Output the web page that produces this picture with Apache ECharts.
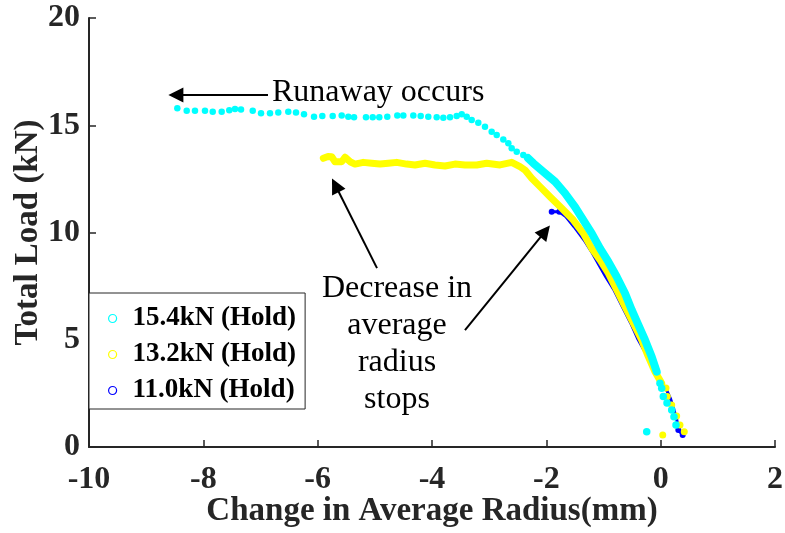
<!DOCTYPE html>
<html>
<head>
<meta charset="utf-8">
<script src="https://cdn.jsdelivr.net/npm/echarts@6/dist/echarts.min.js"></script>
<style>
  html, body { margin: 0; padding: 0; background: #fff; }
  #chart { width: 785px; height: 533px; }
</style>
</head>
<body>
<div id="chart"></div>
<script>
// Axis ranges and ticks
const xTicks = [-10, -8, -6, -4, -2, 0, 2];
const yTicks = [0, 5, 10, 15, 20];
const seriesNames = ['15.4kN (Hold)', '13.2kN (Hold)', '11.0kN (Hold)'];

// 15.4 kN hold: plateau and knee (separate samples)
const cyanHoldX = [-8.455, -8.291, -8.146, -7.971, -7.836, -7.679, -7.546, -7.446, -7.341, -7.136,
  -6.991, -6.834, -6.689, -6.514, -6.379, -6.239, -6.064, -5.919, -5.737, -5.580,
  -5.464, -5.364, -5.155, -5.037, -4.922, -4.782, -4.607, -4.502, -4.327, -4.198,
  -4.065, -3.918, -3.802, -3.685, -3.568, -3.480, -3.393, -3.306, -3.190, -3.073,
  -2.956, -2.868, -2.753, -2.665, -2.606, -2.518, -2.403];
const cyanHoldY = [15.79, 15.68, 15.68, 15.68, 15.63, 15.63, 15.70, 15.76, 15.74, 15.68,
  15.56, 15.56, 15.59, 15.63, 15.59, 15.51, 15.40, 15.43, 15.43, 15.45,
  15.40, 15.37, 15.37, 15.37, 15.37, 15.40, 15.46, 15.45, 15.45, 15.43,
  15.40, 15.37, 15.35, 15.37, 15.43, 15.51, 15.40, 15.24, 15.12, 14.93,
  14.70, 14.55, 14.34, 14.16, 13.93, 13.77, 13.61];
// 15.4 kN: dense loading branch
const cyanRampX = [-2.321, -2.228, -2.053, -1.848, -1.673, -1.499, -1.353, -1.206, -1.061, -0.916,
  -0.769, -0.624, -0.507, -0.391, -0.274, -0.157, -0.069];
const cyanRampY = [13.47, 13.23, 12.83, 12.37, 11.83, 11.20, 10.58, 9.96, 9.26, 8.64,
  7.94, 7.17, 6.39, 5.69, 4.99, 4.21, 3.51];
// 15.4 kN: first samples near zero load
const cyanTailX = [-0.012, 0.018, 0.046, 0.111, 0.193, 0.233, 0.268, -0.244];
const cyanTailY = [2.97, 2.74, 2.35, 2.05, 1.72, 1.41, 1.03, 0.71];

// 13.2 kN hold: plateau and loading branch (dense)
const yellowX = [-5.901, -5.819, -5.754, -5.697, -5.580, -5.522, -5.434, -5.347, -5.202, -5.055,
  -4.910, -4.764, -4.617, -4.443, -4.297, -4.122, -3.948, -3.773, -3.598, -3.423,
  -3.218, -3.043, -2.810, -2.606, -2.461, -2.373, -2.256, -2.111, -1.936, -1.731,
  -1.528, -1.353, -1.206, -1.061, -0.916, -0.769, -0.624, -0.479, -0.332, -0.216,
  -0.099, 0.018];
const yellowY = [13.46, 13.54, 13.53, 13.30, 13.30, 13.51, 13.30, 13.19, 13.27, 13.23,
  13.19, 13.23, 13.27, 13.19, 13.15, 13.23, 13.15, 13.10, 13.19, 13.15,
  13.15, 13.23, 13.15, 13.27, 13.07, 12.91, 12.53, 12.14, 11.67, 11.13,
  10.58, 9.96, 9.26, 8.72, 8.10, 7.32, 6.54, 5.77, 4.99, 4.21,
  3.51, 2.97];
const yellowTailX = [0.093, 0.116, 0.193, 0.280, 0.338, 0.413, 0.036];
const yellowTailY = [2.75, 2.35, 1.96, 1.45, 1.03, 0.71, 0.56];

// 11.0 kN hold
const blueX = [-1.906, -1.773, -1.661, -1.516, -1.341, -1.194, -1.079, -0.962, -0.817, -0.670,
  -0.524, -0.407, -0.262, -0.145, -0.029, 0.088, 0.170, 0.226, 0.283, 0.309, 0.385];
const blueY = [10.97, 10.97, 10.74, 10.27, 9.65, 9.03, 8.48, 7.94, 7.32, 6.54,
  5.77, 5.07, 4.37, 3.74, 3.20, 2.74, 2.27, 1.80, 1.26, 0.79, 0.56];

// Annotation arrows in data coordinates: [tailX, tailY, headX, headY]
const arrows = [
  [-6.869, 16.41, -8.480, 16.41],
  [-4.962, 8.34, -5.690, 12.20],
  [-3.423, 5.45, -2.020, 10.05]
];

const colors = ['#00ffff', '#ffff00', '#0000ff'];
const serif = '"Liberation Serif", "Times New Roman", serif';
const ink = '#262626';

const zip = (xs, ys) => xs.map((x, i) => [x, ys[i]]);

const chart = echarts.init(document.getElementById('chart'), null, { renderer: 'canvas' });

const axisCommon = {
  type: 'value',
  nameLocation: 'middle',
  nameMoveOverlap: false,
  nameTextStyle: { fontFamily: serif, fontWeight: 'bold', fontSize: 33, color: ink },
  axisLine: { show: true, onZero: false, lineStyle: { color: ink, width: 2 } },
  axisTick: { show: true, inside: true, length: 7, lineStyle: { color: ink, width: 1.5 } },
  axisLabel: { fontFamily: serif, fontWeight: 'bold', fontSize: 32, color: ink },
  splitLine: { show: false }
};

chart.setOption({
  animation: false,
  backgroundColor: '#fff',
  grid: { left: 89, right: 10, top: 18, bottom: 86, containLabel: false, outerBoundsMode: 'none' },
  xAxis: Object.assign({}, axisCommon, {
    min: xTicks[0], max: xTicks[xTicks.length - 1], interval: 2,
    name: 'Change in Average Radius(mm)', nameGap: 48,
    axisLabel: Object.assign({}, axisCommon.axisLabel, { margin: 17 })
  }),
  yAxis: Object.assign({}, axisCommon, {
    min: yTicks[0], max: yTicks[yTicks.length - 1], interval: 5,
    name: 'Total Load (kN)', nameGap: 44,
    axisLabel: Object.assign({}, axisCommon.axisLabel, { margin: 9 })
  }),
  legend: {
    orient: 'vertical',
    left: 89, top: 293,
    padding: [12, 9, 5, 19],
    itemGap: 9,
    itemWidth: 30, itemHeight: 8,
    backgroundColor: '#fff',
    borderColor: ink, borderWidth: 1, borderRadius: 0,
    textStyle: { fontFamily: serif, fontWeight: 'bold', fontSize: 27, lineHeight: 27, color: '#000' },
    selectedMode: false,
    data: seriesNames.map((n, i) => ({
      name: n, icon: 'circle',
      itemStyle: { color: '#fff', borderColor: colors[i], borderWidth: 1.2 }
    }))
  },
  series: [
    {
      name: seriesNames[2], type: 'line', data: zip(blueX, blueY),
      symbol: 'circle',
      symbolSize: (v, p) => (p.dataIndex < 2 || p.dataIndex > blueX.length - 3) ? 6 : 0,
      itemStyle: { color: colors[2] },
      lineStyle: { color: colors[2], width: 3, cap: 'round', join: 'round' },
      z: 2
    },
    {
      name: seriesNames[1], type: 'line', data: zip(yellowX, yellowY),
      showSymbol: false,
      itemStyle: { color: colors[1] },
      lineStyle: { color: colors[1], width: 7, cap: 'round', join: 'round' },
      z: 3
    },
    {
      name: seriesNames[1], type: 'scatter', data: zip(yellowTailX, yellowTailY),
      symbolSize: 7, itemStyle: { color: colors[1], opacity: 1 }, z: 3
    },
    {
      name: seriesNames[0], type: 'scatter', data: zip(cyanHoldX, cyanHoldY),
      symbolSize: 6.5, itemStyle: { color: colors[0], opacity: 1 }, z: 4
    },
    {
      name: seriesNames[0], type: 'line', data: zip(cyanRampX, cyanRampY),
      showSymbol: false,
      itemStyle: { color: colors[0] },
      lineStyle: { color: colors[0], width: 8, cap: 'round', join: 'round' },
      z: 4
    },
    {
      name: seriesNames[0], type: 'scatter', data: zip(cyanTailX, cyanTailY),
      symbolSize: 7.5, itemStyle: { color: colors[0], opacity: 1 }, z: 4,
      markLine: {
        silent: true,
        animation: false,
        symbol: ['none', 'triangle'],
        symbolSize: 15,
        label: { show: false },
        itemStyle: { color: '#000' },
        lineStyle: { color: '#000', width: 2, type: 'solid' },
        emphasis: { disabled: true },
        data: arrows.map(a => [{ coord: [a[0], a[1]] }, { coord: [a[2], a[3]] }])
      }
    }
  ],
  graphic: [
    {
      type: 'text', x: 272, y: 93, z: 10,
      style: { text: 'Runaway occurs', fontFamily: serif, fontSize: 32, fill: '#000',
               align: 'left', verticalAlign: 'middle' }
    },
    {
      type: 'text', x: 397, y: 270, z: 10,
      style: { text: 'Decrease in\naverage\nradius\nstops', fontFamily: serif, fontSize: 32,
               lineHeight: 37, fill: '#000', align: 'center', verticalAlign: 'top' }
    }
  ]
});
</script>
</body>
</html>
